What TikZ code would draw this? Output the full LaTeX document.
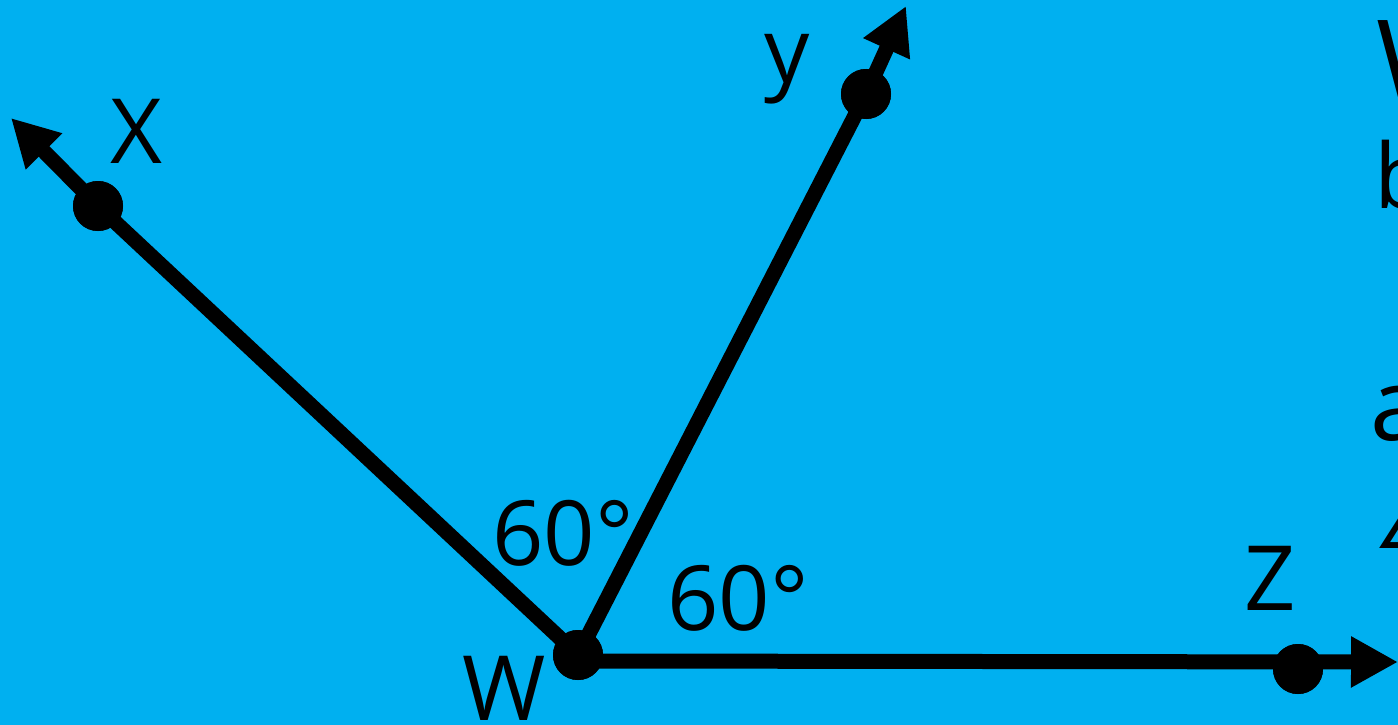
\documentclass[tikz,border=0pt]{standalone}
\usepackage{fontspec}
\setmainfont{Open Sans}
\newfontfamily\symfont{DejaVu Sans}
\usetikzlibrary{arrows.meta}
\definecolor{bgblue}{RGB}{0,176,240}
\tikzset{
  ray/.style={line width=15pt,-{Triangle[length=47pt,width=48pt]}},
  dot/.style={circle,fill=black,inner sep=0pt,minimum size=50pt},
  lbl/.style={inner sep=0pt,anchor=base west,font=\fontsize{90}{90}\selectfont},
}
\begin{document}
\begin{tikzpicture}[x=1pt,y=-1pt]
\useasboundingbox (0,0) rectangle (1398,725);
\clip (0,0) rectangle (1398,725);
\fill[bgblue] (0,0) rectangle (1398,725);
% points
\node[dot] (w) at (578,655) {};
\node[dot] (x) at (98,206) {};
\node[dot] (y) at (866,94) {};
\node[dot] (z) at (1298,669) {};
\coordinate (xt) at (11,118);
\coordinate (yt) at (906,6);
\coordinate (wr) at (578,661);
\coordinate (zt) at (1398,662);
% rays
\draw[ray] (w.center) -- (x.center) -- (xt);
\draw[ray] (w.center) -- (y.center) -- (yt);
\draw[ray] (wr) -- (zt);
\node[dot] at (w) {};
\node[dot] at (x) {};
\node[dot] at (y) {};
\node[dot] at (z) {};
% labels
\node[lbl] (lx) at (110,163) {X};
\node[lbl] (ly) at (764,82) {y};
\node[lbl] (lw) at (462,720) {W};
\node[lbl] (lz) at (1244,610) {Z};
\node[lbl] (a1) at (492,565) {60°};
\node[lbl] (a2) at (667,630) {60°};
% text cut off at the right edge, as in the reference
\node[lbl,font=\fontsize{112}{112}\selectfont] (r1) at (1376,100) {W};
\node[lbl] (r2) at (1374,208) {b};
\node[lbl,font=\fontsize{100}{100}\selectfont] (r3) at (1370,440) {a};
\node[lbl,font=\fontsize{60}{60}\selectfont\symfont] (r4) at (1374,548) {∠};
\end{tikzpicture}
\end{document}
